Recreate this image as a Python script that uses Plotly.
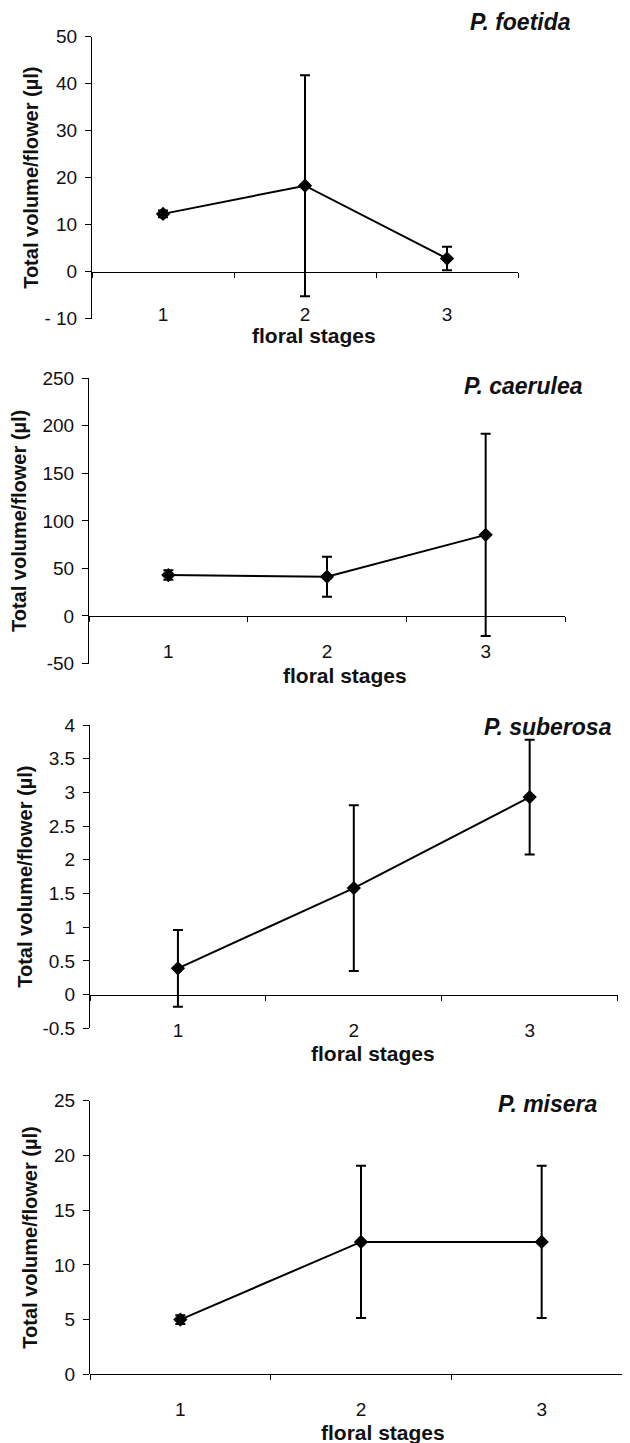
import plotly.graph_objects as go

# ---------------- data ----------------
stages = [1, 2, 3]
stage_labels = ["1", "2", "3"]
species = ["P. foetida", "P. caerulea", "P. suberosa", "P. misera"]

foetida_mean = [12.3, 18.3, 2.8]
foetida_err = [0.7, 23.5, 2.5]
caerulea_mean = [43.0, 41.3, 85.3]
caerulea_err = [5.0, 21.0, 106.5]
suberosa_mean = [0.39, 1.58, 2.93]
suberosa_err = [0.57, 1.23, 0.85]
misera_mean = [5.0, 12.1, 12.1]
misera_err = [0.4, 6.95, 6.95]

foetida_ticks = [-10, 0, 10, 20, 30, 40, 50]
foetida_ticktext = ["- 10", "0", "10", "20", "30", "40", "50"]
caerulea_ticks = [-50, 0, 50, 100, 150, 200, 250]
caerulea_ticktext = ["-50", "0", "50", "100", "150", "200", "250"]
suberosa_ticks = [-0.5, 0, 0.5, 1, 1.5, 2, 2.5, 3, 3.5, 4]
suberosa_ticktext = ["-0.5", "0", "0.5", "1", "1.5", "2", "2.5", "3", "3.5", "4"]
misera_ticks = [0, 5, 10, 15, 20, 25]
misera_ticktext = ["0", "5", "10", "15", "20", "25"]

boundary_ticks = [0.5, 1.5, 2.5, 3.5]
x_title = "floral stages"
y_title = "Total volume/flower (µl)"

means = [foetida_mean, caerulea_mean, suberosa_mean, misera_mean]
errs = [foetida_err, caerulea_err, suberosa_err, misera_err]
yticks = [foetida_ticks, caerulea_ticks, suberosa_ticks, misera_ticks]
yticktexts = [foetida_ticktext, caerulea_ticktext, suberosa_ticktext, misera_ticktext]

# ---------------- layout (page pixels) ----------------
PAGE_W, PAGE_H = 630, 1443
OFF = 8                      # default body margin of the html page
FW, FH = PAGE_W - OFF, PAGE_H - OFF
FONT = "Liberation Sans, Arial, Helvetica, sans-serif"
INK = "#111111"


def px_x(x):
    return min(max((x - OFF) / FW, 0.0), 1.0)


def px_y(y):
    return 1 - (y - OFF) / FH


# (left, right, top, bottom) of each plot area in page px
boxes = [(92, 518, 36.7, 318.7), (89, 565, 378.3, 663.5),
         (90, 617.6, 725, 1028.3), (90, 632, 1100.7, 1374.3)]
label_centers = [312, 649, 1028, 1407]
xtitle_pos = [(314, 336), (345, 675), (373, 1053), (383, 1432)]
species_pos = [(573, 22), (585, 386), (613.6, 727), (600, 1104)]
ytitle_standoff = [0, 11, 4, 11]

fig = go.Figure()
layout = dict(
    width=FW, height=FH, margin=dict(l=0, r=0, t=0, b=0),
    paper_bgcolor="white", plot_bgcolor="white",
    showlegend=False, template="none",
    font=dict(family=FONT, color=INK, size=19),
    annotations=[],
)

for i in range(4):
    k = i + 1
    kz = i + 5
    x0, x1, yt, yb = boxes[i]
    ymin, ymax = yticks[i][0], yticks[i][-1]
    ydom = [px_y(yb), px_y(yt)]
    x1_vis = min(x1, PAGE_W)
    xdom = [px_x(x0), px_x(x1_vis)]
    xr = [0.5, 0.5 + 3 * (x1_vis - x0) / (x1 - x0)]
    zero_pos = ydom[0] + (0 - ymin) / (ymax - ymin) * (ydom[1] - ydom[0])
    label_pos = px_y(label_centers[i] - 11)

    fig.add_trace(go.Scatter(
        x=stages, y=means[i], xaxis=f"x{k}", yaxis=f"y{k}",
        mode="lines+markers",
        line=dict(color="black", width=2),
        marker=dict(symbol="diamond", size=11, color="black"),
        error_y=dict(type="data", array=errs[i], symmetric=True,
                     color="black", thickness=2, width=5),
        hoverinfo="x+y",
    ))
    # helper trace to bind the zero-line axis
    fig.add_trace(go.Scatter(
        x=stages, y=means[i], xaxis=f"x{kz}", yaxis=f"y{k}",
        mode="markers", marker=dict(opacity=0), hoverinfo="skip",
    ))

    layout[f"xaxis{k}"] = dict(
        domain=xdom, range=xr, anchor="free", position=label_pos,
        tickvals=stages, ticktext=stage_labels, ticks="",
        showline=False, showgrid=False, zeroline=False,
        tickfont=dict(size=19, family=FONT, color=INK),
    )
    layout[f"xaxis{kz}"] = dict(
        domain=xdom, range=xr, overlaying=f"x{k}", anchor="free",
        position=zero_pos, tickvals=boundary_ticks, ticks="outside",
        ticklen=5, tickcolor="black", showticklabels=False,
        showline=True, linecolor="black", linewidth=1,
        showgrid=False, zeroline=False,
    )
    layout[f"yaxis{k}"] = dict(
        domain=ydom, range=[ymin, ymax], anchor=f"x{k}",
        tickvals=yticks[i], ticktext=yticktexts[i],
        ticks="outside", ticklen=6, tickcolor="black",
        ticklabelstandoff=4,
        showline=True, linecolor="black", linewidth=1,
        showgrid=False, zeroline=False,
        tickfont=dict(size=19, family=FONT, color=INK),
        title=dict(text=f"<b>{y_title}</b>", standoff=ytitle_standoff[i],
                   font=dict(size=20, family=FONT, color=INK)),
    )
    tx, ty = xtitle_pos[i]
    layout["annotations"].append(dict(
        text=f"<b>{x_title}</b>", xref="paper", yref="paper",
        x=px_x(tx), y=px_y(ty), xanchor="center", yanchor="middle",
        showarrow=False, font=dict(size=21, family=FONT, color=INK),
    ))
    sx, sy = species_pos[i]
    layout["annotations"].append(dict(
        text=f"<b><i>{species[i]}</i></b>", xref="paper", yref="paper",
        x=px_x(sx), y=px_y(sy), xanchor="right", yanchor="middle",
        showarrow=False, font=dict(size=23, family=FONT, color=INK),
    ))

fig.update_layout(**layout)
fig.write_html("out.html")
